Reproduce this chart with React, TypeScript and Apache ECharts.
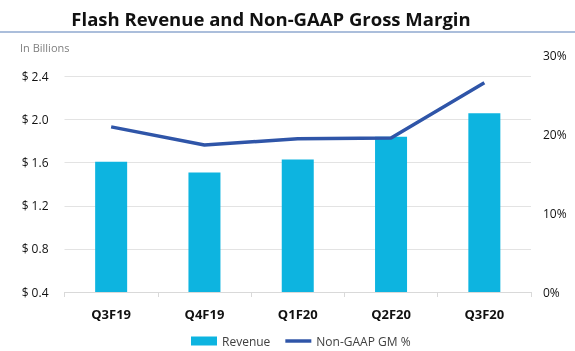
import React, { useEffect, useRef } from "react";
import * as echarts from "echarts";

const categories = ["Q3F19", "Q4F19", "Q1F20", "Q2F20", "Q3F20"];
const revenue = [1.61, 1.51, 1.63, 1.84, 2.06];
const gmPercent = [20.9, 18.6, 19.4, 19.5, 26.5];
const leftTicks = [0.4, 0.8, 1.2, 1.6, 2.0, 2.4];

export default function App() {
  const ref = useRef<HTMLDivElement>(null);
  useEffect(() => {
    if (!ref.current) return;
    const chart = echarts.init(ref.current, null, { renderer: "svg" });
    const font = "'Open Sans', sans-serif";
    chart.setOption({
      animation: false,
      textStyle: { fontFamily: font },
      title: {
        text: "Flash Revenue and Non-GAAP Gross Margin",
        left: 266,
        textAlign: "center",
        top: 4,
        textStyle: { fontSize: 18.5, fontWeight: "bold", color: "#111", fontFamily: font },
      },
      graphic: [
        {
          type: "line",
          shape: { x1: 0, y1: 32, x2: 575, y2: 32 },
          style: { stroke: "#8FA8CF", lineWidth: 1.5 },
        },
        {
          type: "text",
          left: 20,
          top: 42,
          style: { text: "In Billions", fill: "#7f7f7f", font: "11px 'Open Sans', sans-serif" },
        },
      ],
      legend: {
        top: 330,
        left: 186,
        itemGap: 15,
        itemWidth: 26,
        itemHeight: 9,
        textStyle: { fontSize: 12, color: "#404040", fontFamily: font },
        data: [
          { name: "Revenue", icon: "rect" },
          { name: "Non-GAAP GM %", icon: "path://M0,0 L30,0 L30,4 L0,4 Z", itemStyle: { color: "#2F55A8" } },
        ],
      },
      grid: { left: 64.5, right: 44, top: 55, bottom: 59 },
      xAxis: {
        type: "category",
        data: categories,
        axisLine: { lineStyle: { color: "#d9d9d9" } },
        axisTick: { show: true, alignWithLabel: false, lineStyle: { color: "#d9d9d9" } },
        axisLabel: { fontSize: 13, fontWeight: "bold", color: "#111", margin: 15, fontFamily: font },
      },
      yAxis: [
        {
          type: "value",
          min: 0.4,
          max: 2.6,
          interval: 0.4,
          axisLine: { show: false },
          axisTick: { show: false },
          axisLabel: {
            showMaxLabel: false,
            fontSize: 12,
            color: "#111",
            margin: 16,
            fontFamily: font,
            formatter: (v: number) => (leftTicks.some((t) => Math.abs(t - v) < 1e-6) ? "$ " + v.toFixed(1) : ""),
          },
          splitLine: { show: true, showMaxLine: false, lineStyle: { color: "#e3e3e3" } },
        },
        {
          type: "value",
          min: 0,
          max: 30,
          interval: 10,
          axisLine: { show: false },
          axisTick: { show: false },
          splitLine: { show: false },
          axisLabel: { fontSize: 12, color: "#111", margin: 12, formatter: "{value}%", fontFamily: font },
        },
      ],
      series: [
        {
          name: "Revenue",
          type: "bar",
          data: revenue,
          barWidth: 32,
          itemStyle: { color: "#0DB4E0" },
        },
        {
          name: "Non-GAAP GM %",
          type: "line",
          yAxisIndex: 1,
          data: gmPercent,
          symbol: "none",
          lineStyle: { color: "#2F55A8", width: 3.5 },
          itemStyle: { color: "#2F55A8" },
        },
      ],
    });
    return () => chart.dispose();
  }, []);
  return <div ref={ref} style={{ width: 575, height: 351, position: "fixed", left: 0, top: 0 }} />;
}
